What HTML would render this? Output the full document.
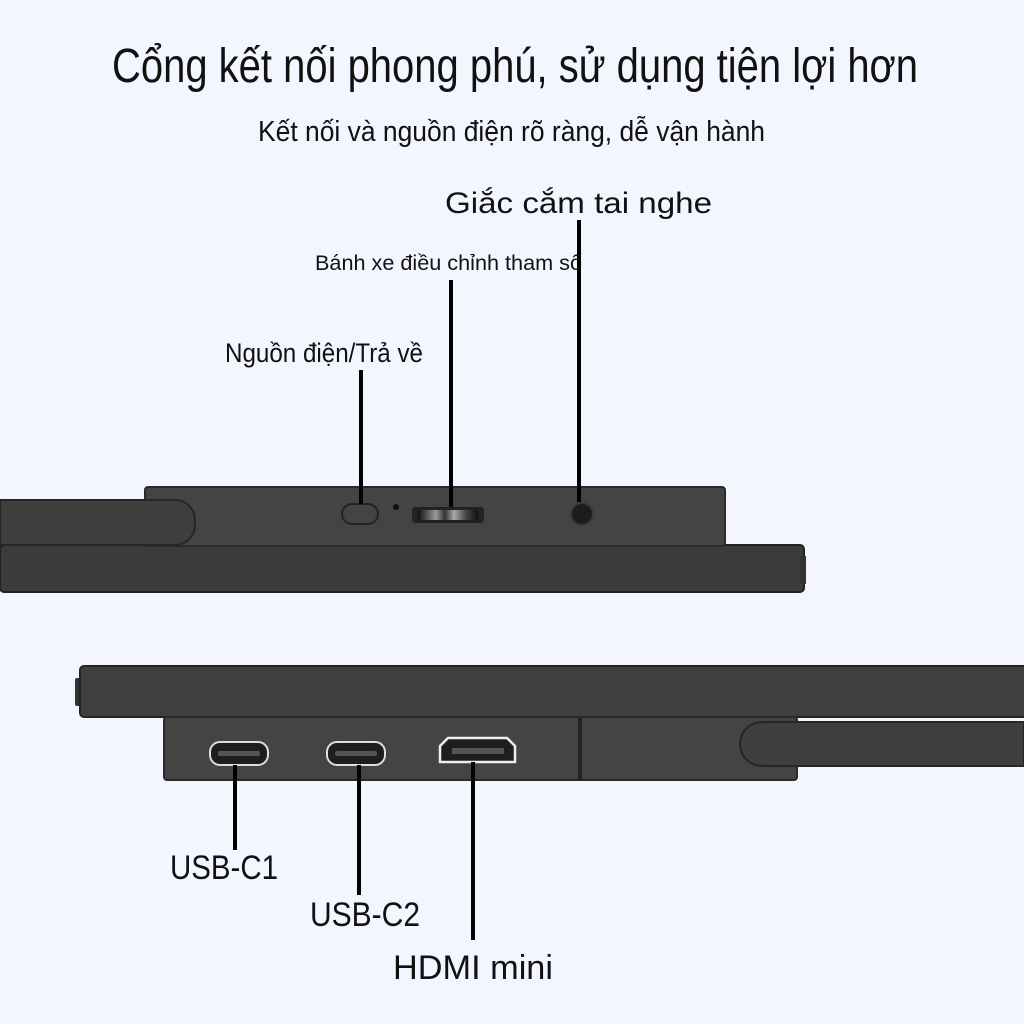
<!DOCTYPE html>
<html><head><meta charset="utf-8"><style>
html,body{margin:0;padding:0;background:#f3f6fe;}
svg{display:block}
</style></head><body>
<svg width="1024" height="1024" viewBox="0 0 1024 1024" xmlns="http://www.w3.org/2000/svg">
<defs>
<linearGradient id="wh" x1="0" x2="1" y1="0" y2="0">
<stop offset="0" stop-color="#111"/><stop offset="0.3" stop-color="#999"/><stop offset="0.45" stop-color="#333"/><stop offset="0.6" stop-color="#aaa"/><stop offset="0.8" stop-color="#444"/><stop offset="1" stop-color="#111"/>
</linearGradient>
</defs>
<rect width="1024" height="1024" fill="#f3f6fe"/>
<g font-family="Liberation Sans, sans-serif" fill="#111">
<text x="112" y="82" font-size="48" textLength="806" lengthAdjust="spacingAndGlyphs">Cổng kết nối phong phú, sử dụng tiện lợi hơn</text>
<text x="258" y="141" font-size="29" textLength="507" lengthAdjust="spacingAndGlyphs">Kết nối và nguồn điện rõ ràng, dễ vận hành</text>
<text x="445" y="213" font-size="30" textLength="267" lengthAdjust="spacingAndGlyphs">Giắc cắm tai nghe</text>
<text x="315" y="270" font-size="21" textLength="267" lengthAdjust="spacingAndGlyphs">Bánh xe điều chỉnh tham số</text>
<text x="225" y="362" font-size="27" textLength="198" lengthAdjust="spacingAndGlyphs">Nguồn điện/Trả về</text>
<text x="170" y="879" font-size="34" textLength="108" lengthAdjust="spacingAndGlyphs">USB-C1</text>
<text x="310" y="926" font-size="34" textLength="110" lengthAdjust="spacingAndGlyphs">USB-C2</text>
<text x="393" y="979" font-size="34" textLength="160" lengthAdjust="spacingAndGlyphs">HDMI mini</text>
</g>
<!-- top device -->
<rect x="0" y="545" width="804" height="47" rx="4" fill="#3b3b3b" stroke="#222" stroke-width="2"/>
<rect x="800" y="556" width="6" height="28" fill="#333"/>
<rect x="145" y="487" width="580" height="59" rx="3" fill="#444" stroke="#2a2a2a" stroke-width="2"/>
<path d="M0 500 H175 A20 20 0 0 1 195 520 V525 A20 20 0 0 1 175 545 H0 Z" fill="#3e3e3e" stroke="#262626" stroke-width="2"/>
<rect x="342" y="504" width="36" height="20" rx="10" fill="#444" stroke="#222" stroke-width="2"/>
<circle cx="396" cy="507" r="3" fill="#111"/>
<rect x="412" y="507" width="72" height="16" rx="3" fill="#222"/>
<rect x="418" y="510" width="60" height="10" fill="url(#wh)"/>
<circle cx="582" cy="514" r="12" fill="#3a3a3a"/>
<circle cx="582" cy="514" r="10" fill="#1c1c1c"/>
<!-- bottom device -->
<rect x="75" y="678" width="8" height="28" rx="2" fill="#333"/>
<rect x="80" y="666" width="950" height="51" rx="4" fill="#3f3f3f" stroke="#222" stroke-width="2"/>
<rect x="164" y="717" width="633" height="63" rx="3" fill="#444" stroke="#2a2a2a" stroke-width="2"/>
<line x1="580" y1="718" x2="580" y2="780" stroke="#222" stroke-width="4"/>
<path d="M1024 722 H762 A22 22 0 0 0 740 744 A22 22 0 0 0 762 766 H1024 Z" fill="#3e3e3e" stroke="#262626" stroke-width="2"/>
<rect x="210" y="742" width="58" height="23" rx="10" fill="#1e1e1e" stroke="#ddd" stroke-width="2"/>
<rect x="218" y="751" width="42" height="5" rx="2" fill="#555"/>
<rect x="327" y="742" width="58" height="23" rx="10" fill="#1e1e1e" stroke="#ddd" stroke-width="2"/>
<rect x="335" y="751" width="42" height="5" rx="2" fill="#555"/>
<path d="M448 738 H507 L515 746 V762 H440 V746 Z" fill="#1e1e1e" stroke="#eee" stroke-width="2.5"/>
<rect x="452" y="748" width="52" height="6" fill="#555"/>
<!-- leader lines -->
<g stroke="#000" stroke-width="4">
<line x1="361" y1="370" x2="361" y2="504"/>
<line x1="451" y1="280" x2="451" y2="507"/>
<line x1="579" y1="220" x2="579" y2="502"/>
<line x1="235" y1="765" x2="235" y2="850"/>
<line x1="359" y1="765" x2="359" y2="895"/>
<line x1="473" y1="762" x2="473" y2="940"/>
</g>
</svg>
</body></html>
